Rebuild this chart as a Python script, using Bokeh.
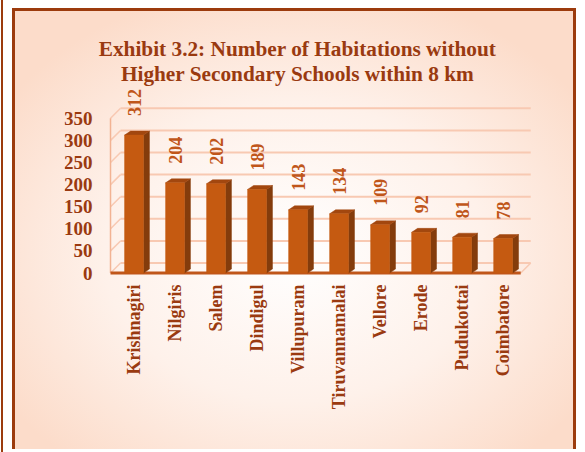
from math import pi
from bokeh.plotting import figure
from bokeh.models import Range1d, FixedTicker, Label, ColumnDataSource
from bokeh.core.properties import value
from bokeh.embed import file_html
from bokeh.resources import INLINE

# ---- data ----
districts = ["Krishnagiri", "Nilgiris", "Salem", "Dindigul", "Villupuram",
             "Tiruvannamalai", "Vellore", "Erode", "Pudukottai", "Coimbatore"]
habitations = [312, 204, 202, 189, 143, 134, 109, 92, 81, 78]
y_ticks = [0, 50, 100, 150, 200, 250, 300, 350]
title_lines = ["Exhibit 3.2: Number of Habitations without",
               "Higher Secondary Schools within 8 km"]

# ---- styling constants ----
DARK = "#9A3A10"
VAL = "#C0561A"
FRONT = "#C55A11"
SIDE = "#843C0C"
TOP = "#A2470F"
GRID = "#F8C9B2"
FONT = "Liberation Serif"

LEFT_BORDER = 49
BOTTOM_BORDER = 168
XW = -0.573                          # front-left wall position
X0, X1 = XW - (95 - LEFT_BORDER) / 41.0, 9.79
Y0, Y1 = -26.0, 591.6
WALL_DX, WALL_DY = 0.244, 22.6      # 3D depth of the walls (data units)
BAR_HALF = 0.23
BAR_DX, BAR_DY = 0.146, 9.0         # 3D depth of the bars (data units)
FLOOR_END = 9.43

p = figure(width=564, height=441, output_backend="svg", toolbar_location=None,
           x_range=Range1d(X0, X1), y_range=Range1d(Y0, Y1),
           min_border_left=LEFT_BORDER, min_border_right=44, min_border_top=0,
           min_border_bottom=BOTTOM_BORDER)
p.background_fill_color = None
p.border_fill_color = None
p.outline_line_color = None
p.xgrid.visible = False
p.ygrid.visible = False
p.styles = {
    "margin-left": "12px",
    "margin-top": "8px",
    "border": "3px solid #9C3B0D",
    "border-bottom": "none",
    "background": "radial-gradient(ellipse 62% 62% at 50% 55%, #FFFFFF 0%, #FEF1EA 55%, #FCDCCA 100%)",
    "box-shadow": "-1px 0 0 8px #FFFFFF, -3px 0 0 8px #9C3B0D",
}

# ---- walls / gridlines ----
p.segment(x0=[XW + WALL_DX] * len(y_ticks), y0=[t + WALL_DY for t in y_ticks],
          x1=[FLOOR_END + WALL_DX] * len(y_ticks), y1=[t + WALL_DY for t in y_ticks],
          line_color=GRID, line_width=2)
p.segment(x0=[XW] * len(y_ticks), y0=y_ticks,
          x1=[XW + WALL_DX] * len(y_ticks), y1=[t + WALL_DY for t in y_ticks],
          line_color=GRID, line_width=1.5)
p.segment(x0=[XW], y0=[0], x1=[XW], y1=[max(y_ticks)], line_color="#F2B393", line_width=1.5)
p.segment(x0=[FLOOR_END], y0=[0], x1=[FLOOR_END + WALL_DX], y1=[WALL_DY],
          line_color=GRID, line_width=1.5)
p.segment(x0=[XW], y0=[0], x1=[FLOOR_END], y1=[0], line_color="#C0561A", line_width=3)

# ---- 3D bars ----
xs = list(range(len(districts)))
src = ColumnDataSource(dict(x=xs, v=habitations))
side_x, side_y, top_x, top_y = [], [], [], []
for i, v in zip(xs, habitations):
    r = i + BAR_HALF
    l = i - BAR_HALF
    side_x.append([r, r + BAR_DX, r + BAR_DX, r])
    side_y.append([0, BAR_DY, v + BAR_DY, v])
    top_x.append([l, r, r + BAR_DX, l + BAR_DX])
    top_y.append([v, v, v + BAR_DY, v + BAR_DY])
p.patches(side_x, side_y, fill_color=SIDE, line_color=SIDE, line_width=0.5)
p.patches(top_x, top_y, fill_color=TOP, line_color=TOP, line_width=0.5)
p.vbar(x="x", top="v", bottom=0, width=2 * BAR_HALF, source=src,
       fill_color=FRONT, line_color=FRONT, line_width=0.5)

# ---- value labels ----
p.text(x=[i + 0.02 for i in xs], y=[v + 43 for v in habitations],
       text=[str(v) for v in habitations], angle=pi / 2,
       text_align="left", text_baseline="middle",
       text_font=value(FONT), text_font_style="bold", text_font_size="18px",
       text_color=VAL)

# ---- axes ----
p.yaxis.fixed_location = XW
p.yaxis.ticker = FixedTicker(ticks=y_ticks)
p.yaxis.axis_line_color = None
p.yaxis.major_tick_line_color = None
p.yaxis.minor_tick_line_color = None
p.yaxis.major_tick_out = 0
p.yaxis.major_tick_in = 0
p.yaxis.minor_tick_out = 0
p.yaxis.minor_tick_in = 0
p.yaxis.major_label_standoff = 18
p.yaxis.major_label_text_font = FONT
p.yaxis.major_label_text_font_style = "bold"
p.yaxis.major_label_text_font_size = "19px"
p.yaxis.major_label_text_color = DARK

p.xaxis.ticker = FixedTicker(ticks=xs)
p.xaxis.major_label_overrides = {i: d for i, d in zip(xs, districts)}
p.xaxis.major_label_orientation = pi / 2
p.xaxis.axis_line_color = None
p.xaxis.major_tick_line_color = None
p.xaxis.minor_tick_line_color = None
p.xaxis.major_tick_out = 0
p.xaxis.major_tick_in = 0
p.xaxis.minor_tick_out = 0
p.xaxis.minor_tick_in = 0
p.xaxis.major_label_standoff = 0
p.xaxis.major_label_text_font = FONT
p.xaxis.major_label_text_font_style = "bold"
p.xaxis.major_label_text_font_size = "18px"
p.xaxis.major_label_text_color = DARK

# ---- title (two centred lines) ----
for line, ly in zip(title_lines, [236, 211]):
    p.add_layout(Label(x=282 - LEFT_BORDER, y=ly, x_units="screen", y_units="screen", text=line,
                       text_align="center", text_baseline="alphabetic",
                       text_font=FONT, text_font_style="bold", text_font_size="21.3px",
                       text_color=DARK))

open("out.html", "w").write(file_html(p, INLINE))
